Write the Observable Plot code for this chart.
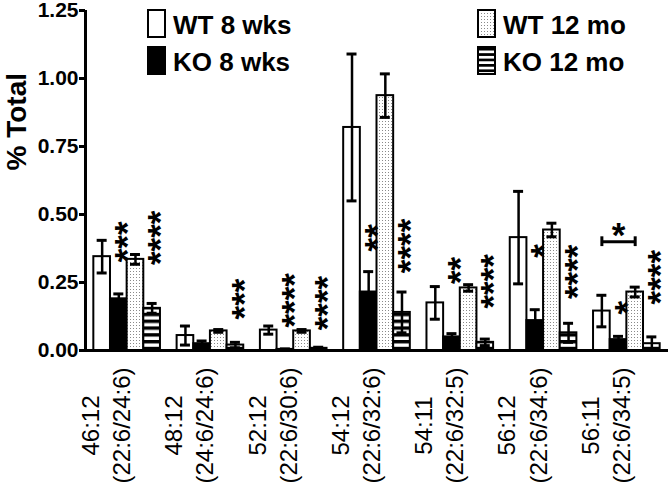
<!DOCTYPE html>
<html><head><meta charset="utf-8">
<script src="https://cdn.jsdelivr.net/npm/d3@7"></script>
<script src="https://cdn.jsdelivr.net/npm/@observablehq/plot@0.6"></script>
<style>body{margin:0;background:#fff} #chart{width:671px;height:484px;position:relative}</style>
</head><body><div id="chart"></div>
<script>
// ---- data ----
const groups = ["46:12", "48:12", "52:12", "54:12", "54:11", "56:12", "56:11"];
const subLabels = ["(22:6/24:6)", "(24:6/24:6)", "(22:6/30:6)", "(22:6/32:6)", "(22:6/32:5)", "(22:6/34:6)", "(22:6/34:5)"];
const series = ["WT 8 wks", "KO 8 wks", "WT 12 mo", "KO 12 mo"];
const wt8 = [0.345, 0.055, 0.075, 0.82, 0.175, 0.415, 0.145];
const wt8Err = [0.06, 0.035, 0.015, 0.27, 0.06, 0.17, 0.058];
const ko8 = [0.19, 0.025, 0.004, 0.215, 0.05, 0.11, 0.04];
const ko8Err = [0.018, 0.01, 0.002, 0.075, 0.012, 0.04, 0.012];
const wt12 = [0.335, 0.072, 0.072, 0.937, 0.23, 0.443, 0.215];
const wt12Err = [0.018, 0.005, 0.005, 0.08, 0.012, 0.025, 0.018];
const ko12 = [0.155, 0.02, 0.008, 0.14, 0.03, 0.065, 0.025];
const ko12Err = [0.018, 0.01, 0.004, 0.075, 0.012, 0.035, 0.025];
const yTicks = [0, 0.25, 0.5, 0.75, 1.0, 1.25];
// significance marks: group, bar, label, level (value of lowest star)
const starGroups = ["46:12", "46:12", "48:12", "52:12", "52:12", "54:12", "54:12", "54:11", "54:11", "56:12", "56:12", "56:11", "56:11"];
const starSeries = ["KO 8 wks", "KO 12 mo", "KO 12 mo", "KO 8 wks", "KO 12 mo", "KO 8 wks", "KO 12 mo", "KO 8 wks", "KO 12 mo", "KO 8 wks", "KO 12 mo", "KO 8 wks", "KO 12 mo"];
const starLabels = ["***", "****", "***", "****", "****", "**", "****", "**", "****", "*", "****", "*", "****"];
const starLevels = [0.35, 0.34, 0.14, 0.11, 0.10, 0.39, 0.31, 0.27, 0.18, 0.367, 0.215, 0.158, 0.195];
// bracket comparison
const bracketGroup = "56:11";
const bracketFrom = "WT 8 wks";
const bracketTo = "WT 12 mo";
const bracketLevel = 0.40;
const bracketLabel = "*";
const bracketLabelLevel = 0.45;

// ---- build tables ----
const values = [wt8, ko8, wt12, ko12];
const errors = [wt8Err, ko8Err, wt12Err, ko12Err];
const gIndex = new Map(groups.map((g, i) => [g, i]));
const sIndex = new Map(series.map((s, i) => [s, i]));
const barW = 0.2;
const center = (g, s) => gIndex.get(g) + (sIndex.get(s) - 1.5) * barW;
const rows = [];
groups.forEach((g, gi) => series.forEach((s, si) => {
  const v = values[si][gi], e = errors[si][gi];
  rows.push({group: g, series: s, value: v, lo: v - e, hi: v + e,
    x1: center(g, s) - barW / 2, x2: center(g, s) + barW / 2, xc: center(g, s)});
}));
const stars = starGroups.map((g, i) => ({x: center(g, starSeries[i]), level: starLevels[i], label: starLabels[i]}));
const bracket = {x1: center(bracketGroup, bracketFrom), x2: center(bracketGroup, bracketTo), level: bracketLevel};
const capHalf = 0.06;
const FONT = "Liberation Sans, Arial, Helvetica, sans-serif";

const plot = Plot.plot({
  width: 671,
  height: 484,
  marginLeft: 85,
  marginRight: 3,
  marginTop: 10,
  marginBottom: 134,
  style: {fontFamily: FONT, fontSize: "21px", color: "black", background: "white", overflow: "visible"},
  x: {domain: [-0.5, groups.length - 0.5], axis: null},
  y: {domain: [0, 1.25], axis: null},
  color: {type: "ordinal", domain: series, range: ["white", "black", "url(#dots)", "url(#stripes)"]},
  marks: [
    Plot.rectY(rows, {x1: "x1", x2: "x2", y1: 0, y2: "value", fill: "series", stroke: "black", strokeWidth: 2}),
    Plot.ruleX(rows, {x: "xc", y1: "lo", y2: "hi", stroke: "black", strokeWidth: 2.5}),
    Plot.ruleY(rows, {y: "hi", x1: d => d.xc - capHalf, x2: d => d.xc + capHalf, stroke: "black", strokeWidth: 3}),
    Plot.ruleY(rows, {y: "lo", x1: d => d.xc - capHalf, x2: d => d.xc + capHalf, stroke: "black", strokeWidth: 3}),
    // significance stars (stacked vertically, as rotated text)
    Plot.text(stars, {x: "x", y: "level", text: "label", rotate: -90, textAnchor: "start",
      fontSize: 35, fontWeight: "bold", dx: 9, dy: 7, fill: "black"}),
    // bracket
    Plot.ruleY([bracket], {x1: "x1", x2: "x2", y: "level", stroke: "black", strokeWidth: 3}),
    Plot.ruleX([bracket.x1, bracket.x2], {x: d => d, y1: bracketLevel - 0.018, y2: bracketLevel + 0.018, stroke: "black", strokeWidth: 3}),
    Plot.text([bracketLabel], {x: (bracket.x1 + bracket.x2) / 2, y: bracketLabelLevel, text: d => d,
      fontSize: 35, fontWeight: "bold", lineAnchor: "bottom", dy: 19, fill: "black"}),
    // axes
    Plot.axisY({ticks: yTicks, tickFormat: d3.format(".2f"), tickSize: 6, tickPadding: 1, strokeWidth: 3,
      fontSize: 21, fontWeight: "bold", label: null}),
    Plot.ruleX([-0.5], {y1: 0, y2: 1.25, stroke: "black", strokeWidth: 3}),
    Plot.ruleY([0], {stroke: "black", strokeWidth: 3}),
    Plot.text(["% Total"], {frameAnchor: "left", dx: -68, dy: -10, rotate: -90, fontSize: 28, fontWeight: "bold", fill: "black"}),
    // group labels
    Plot.text(groups, {x: (d, i) => i, text: (d, i) => d + "\n" + subLabels[i], frameAnchor: "bottom",
      dy: 75, dx: 3, rotate: -90, fontSize: 24, lineHeight: 1.3, textAnchor: "middle", fill: "black"})
  ]
});

document.getElementById("chart").appendChild(plot);

// patterns + legend
const svg = d3.select(plot);
const defs = svg.insert("defs", ":first-child");
const dots = defs.append("pattern").attr("id", "dots").attr("patternUnits", "userSpaceOnUse").attr("width", 3).attr("height", 3);
dots.append("rect").attr("width", 3).attr("height", 3).attr("fill", "white");
dots.append("rect").attr("x", 1).attr("y", 1).attr("width", 1).attr("height", 1).attr("fill", "#8a8a8a");
const stripes = defs.append("pattern").attr("id", "stripes").attr("patternUnits", "userSpaceOnUse").attr("width", 7).attr("height", 6.8);
stripes.append("rect").attr("width", 7).attr("height", 6.8).attr("fill", "white");
stripes.append("rect").attr("width", 7).attr("height", 3.4).attr("fill", "black");
const stripesL = defs.append("pattern").attr("id", "stripesL").attr("patternUnits", "userSpaceOnUse").attr("width", 5).attr("height", 5.4).attr("y", 10);
stripesL.append("rect").attr("width", 5).attr("height", 5.4).attr("fill", "white");
stripesL.append("rect").attr("width", 5).attr("height", 2.7).attr("fill", "black");

const legendFills = ["white", "black", "url(#dots)", "url(#stripesL)"];
const legendCols = [148, 148, 478, 478];
const legendRows = [10, 47, 10, 47];
const lg = svg.append("g").attr("font-family", FONT).attr("font-weight", "bold").attr("font-size", 26).attr("text-anchor", "start");
series.forEach((s, i) => {
  lg.append("rect").attr("x", legendCols[i]).attr("y", legendRows[i]).attr("width", 17).attr("height", 27)
    .attr("fill", legendFills[i]).attr("stroke", "black").attr("stroke-width", 2);
  lg.append("text").attr("x", legendCols[i] + 25).attr("y", legendRows[i] + 24).attr("text-anchor", "start").text(s).attr("fill", "black");
});
</script>
</body></html>
